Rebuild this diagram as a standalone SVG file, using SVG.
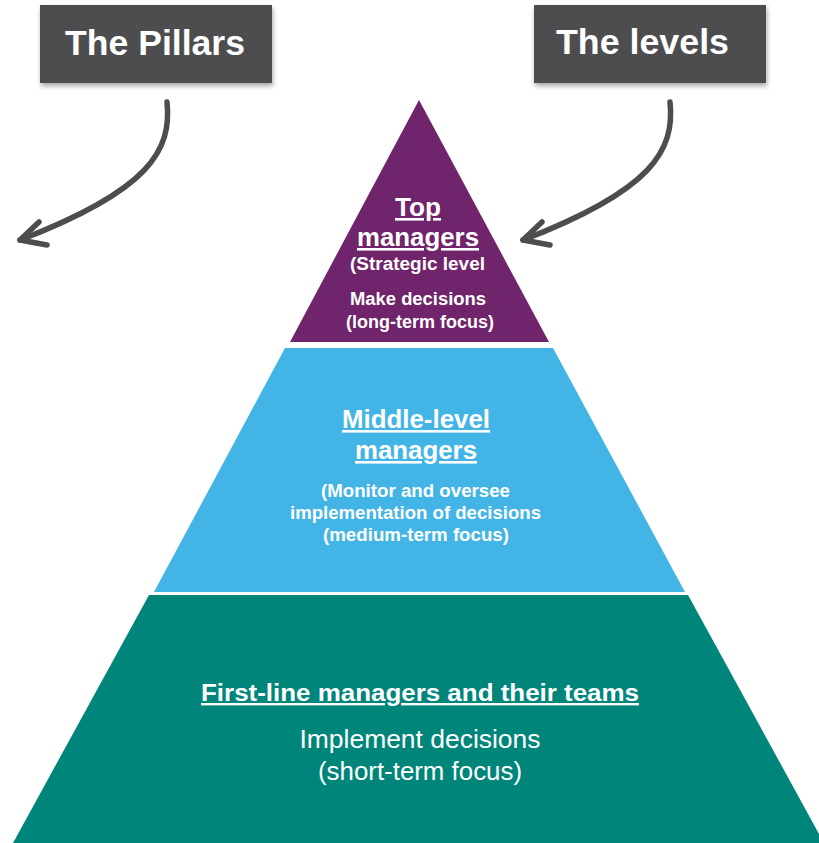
<svg xmlns="http://www.w3.org/2000/svg" width="819" height="843" viewBox="0 0 819 843">
<defs>
<filter id="shadow" x="-10%" y="-10%" width="120%" height="140%">
<feDropShadow dx="1" dy="3" stdDeviation="2.5" flood-color="#000" flood-opacity="0.35"/>
</filter>
<style>
.box{fill:#4D4D4F;filter:url(#shadow)}
.boxtext{font-family:"Liberation Sans",Arial,sans-serif;font-weight:bold;font-size:35px;fill:#FFFFFF;text-anchor:middle}
.arrow{fill:none;stroke:#4D4D4F;stroke-width:5.5;stroke-linecap:round;stroke-linejoin:round}
.t{font-family:"Liberation Sans",Arial,sans-serif;fill:#FFFFFF;text-anchor:middle}
.h{font-weight:bold;text-decoration:underline}
.b{font-weight:bold}
</style>
</defs>
<rect width="819" height="843" fill="#FFFFFF"/>
<g id="pillars">
<rect class="box" x="40" y="5" width="232" height="78"/>
<text class="boxtext" x="155" y="55" textLength="180" lengthAdjust="spacingAndGlyphs">The Pillars</text>
</g>
<g id="levels">
<rect class="box" x="534" y="5" width="232" height="78"/>
<text class="boxtext" x="642.5" y="54" textLength="173" lengthAdjust="spacingAndGlyphs">The levels</text>
</g>
<g id="top">
<polygon points="419,100 549,342 290,342" fill="#70246B"/>
<text class="t h" x="418" y="216" font-size="26" textLength="46" lengthAdjust="spacingAndGlyphs">Top</text>
<text class="t h" x="418" y="246" font-size="26" textLength="122" lengthAdjust="spacingAndGlyphs">managers</text>
<text class="t b" x="417.5" y="270" font-size="18" textLength="135" lengthAdjust="spacingAndGlyphs">(Strategic level</text>
<text class="t b" x="418" y="305" font-size="18" textLength="136" lengthAdjust="spacingAndGlyphs">Make decisions</text>
<text class="t b" x="420" y="328" font-size="18" textLength="148" lengthAdjust="spacingAndGlyphs">(long-term focus)</text>
</g>
<g id="middle">
<polygon points="285,348 553,348 685,592 154,592" fill="#42B4E6"/>
<text class="t h" x="416" y="428" font-size="26" textLength="148" lengthAdjust="spacingAndGlyphs">Middle-level</text>
<text class="t h" x="416" y="459" font-size="26" textLength="122" lengthAdjust="spacingAndGlyphs">managers</text>
<text class="t b" x="415.5" y="497" font-size="18.5" textLength="189" lengthAdjust="spacingAndGlyphs">(Monitor and oversee</text>
<text class="t b" x="415.5" y="519" font-size="18.5" textLength="251" lengthAdjust="spacingAndGlyphs">implementation of decisions</text>
<text class="t b" x="416" y="541" font-size="18.5" textLength="186" lengthAdjust="spacingAndGlyphs">(medium-term focus)</text>
</g>
<g id="bottom">
<polygon points="149,595 688,595 824,843 13,843" fill="#00857A"/>
<text class="t h" x="420" y="701" font-size="23.5" textLength="438" lengthAdjust="spacingAndGlyphs">First-line managers and their teams</text>
<text class="t" x="420" y="748" font-size="25.5" textLength="241" lengthAdjust="spacingAndGlyphs">Implement decisions</text>
<text class="t" x="420" y="780" font-size="25.5" textLength="204" lengthAdjust="spacingAndGlyphs">(short-term focus)</text>
</g>
<g id="connectors">
<path class="arrow" d="M167,102 C172,150 150,190 20,240"/>
<path class="arrow" d="M39,222 L20,240 L47,245"/>
<path class="arrow" d="M670,102 C675,150 653,190 523,240"/>
<path class="arrow" d="M542,222 L523,240 L550,245"/>
</g>
</svg>
